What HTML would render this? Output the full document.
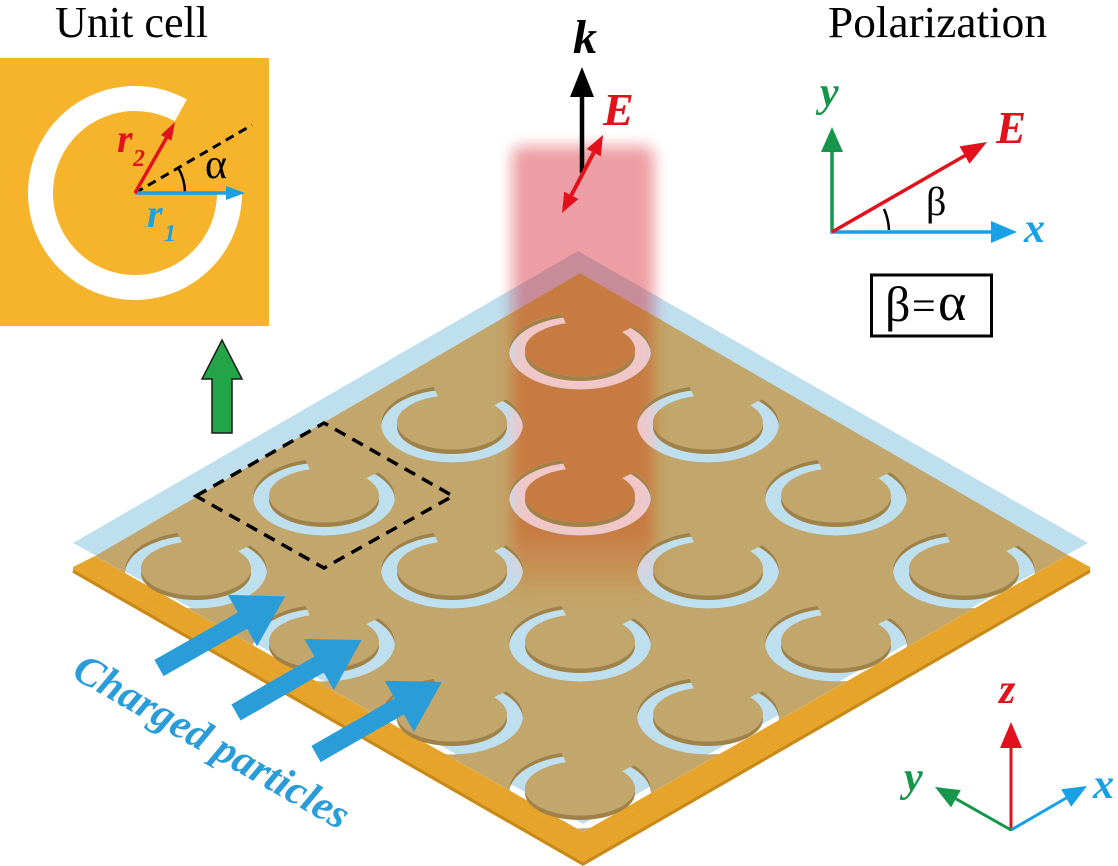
<!DOCTYPE html>
<html><head><meta charset="utf-8">
<style>
html,body{margin:0;padding:0;background:#fff;}
svg{display:block;}
text{font-family:"Liberation Serif","DejaVu Serif",serif;}
.bi{font-weight:bold;font-style:italic;}
</style></head>
<body>
<svg width="1118" height="866" viewBox="0 0 1118 866" xmlns="http://www.w3.org/2000/svg" xmlns:xlink="http://www.w3.org/1999/xlink">
<defs>
  <path id="slot" d="M -18.38 -37.19 A 71 38.5 0 1 0 54.39 -24.75 L 42.13 -18.86 A 55 27 0 1 1 -14.23 -27.58 Z"/>
  <g id="walls">
    <ellipse cx="0" cy="3" rx="55" ry="27"/>
    <path fill-rule="evenodd" d="M -71 0 A 71 38.5 0 1 1 71 0 A 71 38.5 0 1 1 -71 0 Z M -71 4 A 71 38.5 0 1 1 71 4 A 71 38.5 0 1 1 -71 4 Z"/>
  </g>
  <g id="allSlots">
    <use href="#slot" transform="translate(580,351)"/>
    <use href="#slot" transform="translate(708,424)"/>
    <use href="#slot" transform="translate(836,497)"/>
    <use href="#slot" transform="translate(964,570)"/>
    <use href="#slot" transform="translate(452,424)"/>
    <use href="#slot" transform="translate(580,497)"/>
    <use href="#slot" transform="translate(708,570)"/>
    <use href="#slot" transform="translate(836,643)"/>
    <use href="#slot" transform="translate(324,497)"/>
    <use href="#slot" transform="translate(452,570)"/>
    <use href="#slot" transform="translate(580,643)"/>
    <use href="#slot" transform="translate(708,716)"/>
    <use href="#slot" transform="translate(196,570)"/>
    <use href="#slot" transform="translate(324,643)"/>
    <use href="#slot" transform="translate(452,716)"/>
    <use href="#slot" transform="translate(580,790)"/>
  </g>
  <g id="allWalls">
    <use href="#walls" transform="translate(580,351)"/>
    <use href="#walls" transform="translate(708,424)"/>
    <use href="#walls" transform="translate(836,497)"/>
    <use href="#walls" transform="translate(964,570)"/>
    <use href="#walls" transform="translate(452,424)"/>
    <use href="#walls" transform="translate(580,497)"/>
    <use href="#walls" transform="translate(708,570)"/>
    <use href="#walls" transform="translate(836,643)"/>
    <use href="#walls" transform="translate(324,497)"/>
    <use href="#walls" transform="translate(452,570)"/>
    <use href="#walls" transform="translate(580,643)"/>
    <use href="#walls" transform="translate(708,716)"/>
    <use href="#walls" transform="translate(196,570)"/>
    <use href="#walls" transform="translate(324,643)"/>
    <use href="#walls" transform="translate(452,716)"/>
    <use href="#walls" transform="translate(580,790)"/>
  </g>
  <mask id="plateMask" maskUnits="userSpaceOnUse" x="0" y="0" width="1118" height="866">
    <polygon points="580,273 1068,555 583,832 95,556" fill="#fff"/>
    <use href="#allSlots" fill="#000"/>
  </mask>
  <mask id="slotsMask" maskUnits="userSpaceOnUse" x="0" y="0" width="1118" height="866">
    <use href="#allSlots" fill="#fff"/>
  </mask>
  <mask id="outMask" maskUnits="userSpaceOnUse" x="0" y="0" width="1118" height="866">
    <rect x="0" y="0" width="1118" height="866" fill="#fff"/>
    <polygon points="580,273 1068,555 583,832 95,556" fill="#000"/>
  </mask>
  <filter id="bl" filterUnits="userSpaceOnUse" x="460" y="100" width="250" height="540">
    <feGaussianBlur stdDeviation="7"/>
  </filter>
  <linearGradient id="gOr" gradientUnits="userSpaceOnUse" x1="0" y1="147" x2="0" y2="600">
    <stop offset="0" stop-color="rgb(205,80,20)" stop-opacity="0.5"/>
    <stop offset="0.85" stop-color="rgb(205,80,20)" stop-opacity="0.5"/>
    <stop offset="1" stop-color="rgb(205,80,20)" stop-opacity="0"/>
  </linearGradient>
  <linearGradient id="gSl" gradientUnits="userSpaceOnUse" x1="0" y1="147" x2="0" y2="600">
    <stop offset="0" stop-color="#f0c6c8" stop-opacity="1"/>
    <stop offset="0.85" stop-color="#f0c6c8" stop-opacity="1"/>
    <stop offset="1" stop-color="#f0c6c8" stop-opacity="0"/>
  </linearGradient>
  <path id="fat" d="M0,-9.3 L96,-9.3 L96,-29.5 L145,0 L96,29.5 L96,9.3 L0,9.3 Z"/>
</defs>

<rect x="0" y="0" width="1118" height="866" fill="#fff"/>

<!-- blue layer -->
<polygon points="578,251 1088,543 583,824 73,543" fill="#bedfee"/>

<!-- orange substrate band -->
<polygon points="95,556 73,567 73,573 583,866 1090,573 1090,567 1068,555 583,832" fill="#e6a52a"/>
<polyline points="73,571 583,864 1090,571" fill="none" stroke="#c8891a" stroke-width="3"/>

<!-- beam seen through slots -->
<g mask="url(#slotsMask)">
  <rect x="512" y="146" width="142" height="454" rx="10" fill="url(#gSl)" filter="url(#bl)"/>
</g>

<!-- brown metal face with slots -->
<polygon points="580,273 1068,555 583,832 95,556" fill="#c3a66b" mask="url(#plateMask)"/>

<!-- slot walls -->
<g mask="url(#slotsMask)" fill="#a08249">
  <use href="#allWalls"/>
</g>

<!-- beam overlay on plate -->
<g mask="url(#plateMask)">
  <rect x="512" y="146" width="142" height="454" rx="10" fill="url(#gOr)" filter="url(#bl)"/>
</g>
<!-- beam above plate -->
<g mask="url(#outMask)">
  <rect x="512" y="146" width="142" height="454" rx="10" fill="rgb(212,20,38)" fill-opacity="0.42" filter="url(#bl)"/>
</g>

<!-- dotted unit cell box -->
<polygon points="196,496 324,423 453,496 324,568" fill="none" stroke="#000" stroke-width="3.5" stroke-dasharray="12 8"/>

<!-- charged particle arrows -->
<g fill="#2a9dd8">
  <use href="#fat" transform="translate(159,668) rotate(-29.6)"/>
  <use href="#fat" transform="translate(236,712.5) rotate(-30)"/>
  <use href="#fat" transform="translate(316,754) rotate(-29.8)"/>
</g>
<text class="bi" transform="translate(211,743) rotate(29.7)" x="-155" y="12" font-size="42" fill="#2a9dd8" textLength="310" lengthAdjust="spacingAndGlyphs">Charged particles</text>

<!-- k arrow -->
<line x1="582" y1="173" x2="582" y2="94" stroke="#000" stroke-width="4.5"/>
<polygon points="570,97 582,67 594,97" fill="#000"/>
<text class="bi" x="573" y="53" font-size="48" fill="#000">k</text>

<!-- E double arrow -->
<line x1="593.7" y1="152.7" x2="571.3" y2="195.3" stroke="#e2121c" stroke-width="4"/>
<polygon points="603,135 600.8,156.4 586.6,149" fill="#e2121c"/>
<polygon points="562,213 578.4,199 564.2,191.6" fill="#e2121c"/>
<text class="bi" x="603" y="125" font-size="46" fill="#e2121c">E</text>

<!-- Unit cell -->
<text x="55" y="37" font-size="44" fill="#000" textLength="153" lengthAdjust="spacingAndGlyphs">Unit cell</text>
<rect x="0" y="58" width="269" height="268" fill="#f6b42c"/>
<path d="M 186.9 99.4 A 107 107 0 1 0 242 193 L 217 193 A 82 82 0 1 1 174.8 121.3 Z" fill="#fff"/>
<line x1="135" y1="193" x2="252" y2="125" stroke="#000" stroke-width="3" stroke-dasharray="9 6"/>
<path d="M 185 193 A 50 50 0 0 0 178.3 168" fill="none" stroke="#000" stroke-width="2.5"/>
<line x1="135" y1="193" x2="228" y2="193" stroke="#1ca0e0" stroke-width="3.5"/>
<polygon points="226,186 245,193 226,200" fill="#1ca0e0"/>
<line x1="135" y1="193" x2="167" y2="137" stroke="#e2121c" stroke-width="3.5"/>
<polygon points="175,122 171.4,140.7 160.9,135" fill="#e2121c"/>
<text x="205" y="178" font-size="42" fill="#000">α</text>
<text class="bi" x="117" y="152" font-size="40" fill="#e2121c">r</text>
<text class="bi" x="133" y="166" font-size="24" fill="#e2121c">2</text>
<text class="bi" x="147" y="227" font-size="40" fill="#1ca0e0">r</text>
<text class="bi" x="164" y="241" font-size="24" fill="#1ca0e0">1</text>

<!-- green arrow -->
<polygon points="212,433 212,379 202,379 222,340 242,379 232,379 232,433" fill="#23a547" stroke="#1a1a1a" stroke-width="1.5"/>

<!-- Polarization -->
<text x="828" y="37" font-size="44" fill="#000" textLength="219" lengthAdjust="spacingAndGlyphs">Polarization</text>
<line x1="832" y1="233.5" x2="832" y2="150" stroke="#15964a" stroke-width="3.5"/>
<polygon points="821,152 832,127 843,152" fill="#15964a"/>
<line x1="830.5" y1="232" x2="993" y2="232" stroke="#18a0e4" stroke-width="3.5"/>
<polygon points="991,221 1017,232 991,243" fill="#18a0e4"/>
<line x1="832" y1="232" x2="966" y2="155" stroke="#e2121c" stroke-width="3.5"/>
<polygon points="987,142 969.5,163.7 959.5,146.4" fill="#e2121c"/>
<path d="M 889 230 A 57 57 0 0 0 884 209" fill="none" stroke="#000" stroke-width="2.5"/>
<text class="bi" x="820" y="106" font-size="42" fill="#15964a">y</text>
<text class="bi" x="996" y="143" font-size="45" fill="#e2121c">E</text>
<text class="bi" x="1024" y="242" font-size="42" fill="#18a0e4">x</text>
<text x="926" y="215" font-size="40" fill="#000">β</text>
<rect x="871.5" y="275" width="120" height="61" fill="none" stroke="#000" stroke-width="3"/>
<text x="885" y="321" font-size="50" fill="#000">β</text>
<text x="912" y="320" font-size="42" fill="#000">=</text>
<text x="938" y="320" font-size="54" fill="#000">α</text>

<!-- bottom-right axes -->
<line x1="1011" y1="831" x2="1011" y2="746" stroke="#e2121c" stroke-width="3"/>
<polygon points="1000,748 1011,722 1022,748" fill="#e2121c"/>
<line x1="1011" y1="830" x2="1066.2" y2="798" stroke="#18a0e4" stroke-width="3"/>
<polygon points="1087,786 1071.2,806.7 1061.2,789.3" fill="#18a0e4"/>
<line x1="1011" y1="830" x2="955.9" y2="798.8" stroke="#15964a" stroke-width="3"/>
<polygon points="935,787 960.8,790.1 951,807.5" fill="#15964a"/>
<text class="bi" x="999" y="703" font-size="42" fill="#e2121c">z</text>
<text class="bi" x="1093" y="798" font-size="42" fill="#18a0e4">x</text>
<text class="bi" x="904" y="791" font-size="42" fill="#15964a">y</text>
</svg>
</body></html>
